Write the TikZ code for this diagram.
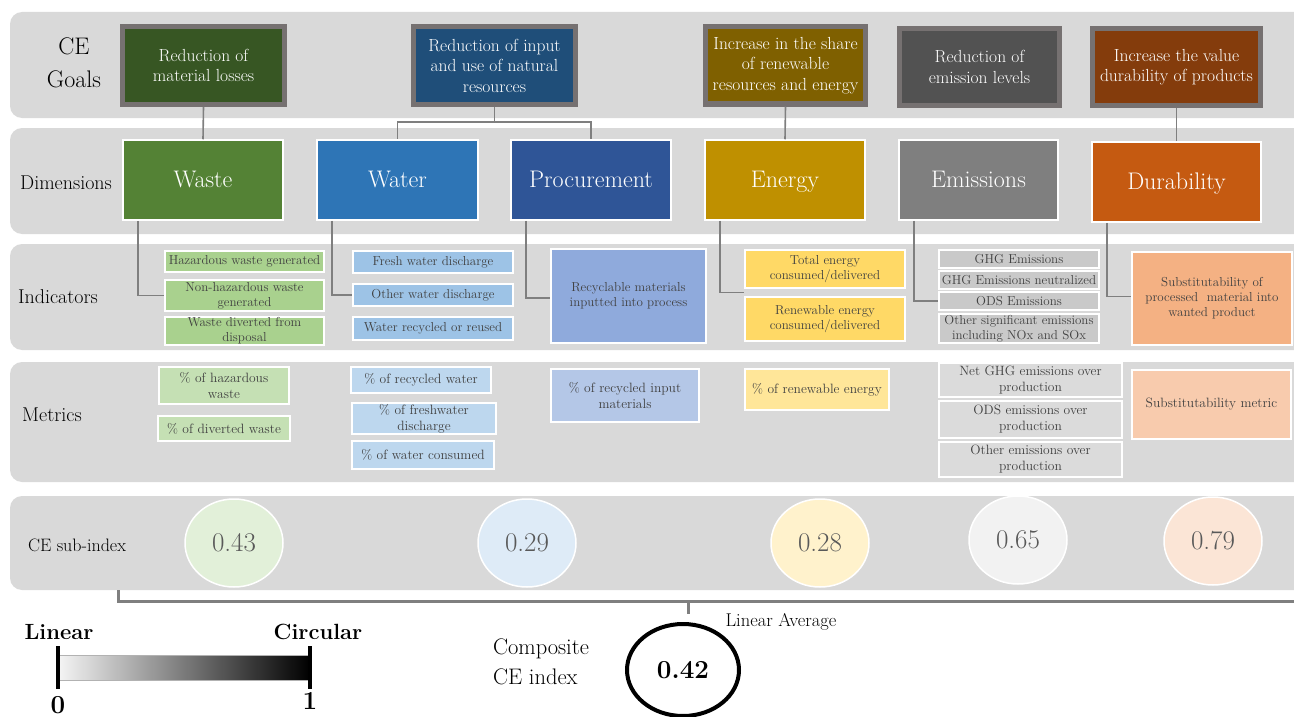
\documentclass[tikz,border=0pt]{standalone}
\usepackage{fontspec}
\setmainfont{Latin Modern Roman}
\usetikzlibrary{shapes.geometric}
\definecolor{band}{HTML}{D9D9D9}
\definecolor{gborder}{HTML}{767171}
\definecolor{lgray}{HTML}{7F7F7F}
\definecolor{tgray}{HTML}{404040}
\definecolor{ggreen}{HTML}{375623}
\definecolor{gblue}{HTML}{1F4E79}
\definecolor{golive}{HTML}{7F6000}
\definecolor{ggray}{HTML}{525252}
\definecolor{gbrown}{HTML}{843C0C}
\definecolor{dgreen}{HTML}{548235}
\definecolor{dblue}{HTML}{2E75B6}
\definecolor{dnavy}{HTML}{2F5597}
\definecolor{dgold}{HTML}{BF9000}
\definecolor{dgray}{HTML}{7F7F7F}
\definecolor{dorange}{HTML}{C55A11}
\definecolor{igreen}{HTML}{A9D18E}
\definecolor{iblue}{HTML}{9DC3E6}
\definecolor{inavy}{HTML}{8FAADC}
\definecolor{igold}{HTML}{FFD966}
\definecolor{igray}{HTML}{C9C9C9}
\definecolor{iorange}{HTML}{F4B183}
\definecolor{mgreen}{HTML}{C5E0B4}
\definecolor{mblue}{HTML}{BDD7EE}
\definecolor{mnavy}{HTML}{B4C7E7}
\definecolor{mgold}{HTML}{FFE699}
\definecolor{mgray}{HTML}{DBDBDB}
\definecolor{morange}{HTML}{F8CBAD}
\definecolor{sgreen}{HTML}{E2F0D9}
\definecolor{sblue}{HTML}{DEEBF7}
\definecolor{sgold}{HTML}{FFF2CC}
\definecolor{sgray}{HTML}{F2F2F2}
\definecolor{sorange}{HTML}{FBE5D6}
\definecolor{subtxt}{HTML}{595959}
\newcommand\rbox[7]{\node[#1, minimum width={#4-#2}, minimum height={#5-#3}] (#6) at ({(#2+#4)/2},{(#3+#5)/2}) {#7};}
\begin{document}
\begin{tikzpicture}[x=1pt,y=-1pt,
  bandbox/.style={fill=band, rounded corners=12pt},
  goal/.style={draw=gborder, line width=5pt, text=white, align=center, inner sep=0pt, font=\fontsize{17.5}{20.5}\selectfont},
  dim/.style={draw=white, line width=1.5pt, text=white, inner sep=0pt, text height=17pt, text depth=3pt, font=\fontsize{24}{28}\selectfont},
  ind/.style={draw=white, line width=1.3pt, text=tgray, align=center, inner sep=0pt, font=\fontsize{13}{15}\selectfont},
  met/.style={draw=white, line width=1.3pt, text=tgray, align=center, inner sep=0pt, font=\fontsize{13.5}{16}\selectfont},
  sub/.style={ellipse, draw=white, line width=1.5pt, text=subtxt, inner sep=0pt, minimum width=98pt, minimum height=88pt, font=\fontsize{27}{30}\selectfont},
  rowlab/.style={text=black, font=\fontsize{20}{24}\selectfont},
  conn/.style={draw=lgray, line width=1.6pt}]
\useasboundingbox (0,0) rectangle (1294,717);
% bands
\fill[bandbox] (10,12) rectangle (1310,118);
\fill[bandbox] (10,128) rectangle (1310,234);
\fill[bandbox] (10,244) rectangle (1310,350);
\fill[bandbox] (10,362) rectangle (1310,482);
\fill[bandbox] (10,496) rectangle (1310,590);
% row labels
\node[rowlab, align=center, font=\fontsize{24}{33}\selectfont] (lgoals) at (74,63) {CE\\Goals};
\node[rowlab] (ldim) at (66,183) {Dimensions};
\node[rowlab] (lind) at (58,297) {Indicators};
\node[rowlab] (lmet) at (52,415) {Metrics};
\node[rowlab, font=\fontsize{18}{20}\selectfont] (lsub) at (77,545) {CE sub-index};
% goals
\rbox{goal, fill=ggreen}{122.5}{26.5}{284.5}{104.5}{g1}{Reduction of\\material losses}
\rbox{goal, fill=gblue}{413.5}{26.5}{575.5}{104.5}{g2}{Reduction of input\\and use of natural\\resources}
\rbox{goal, fill=golive}{705.5}{26.5}{865.5}{104}{g3}{Increase in the share\\of renewable\\resources and energy}
\rbox{goal, fill=ggray}{899.5}{28.5}{1059.5}{105.5}{g4}{Reduction of\\emission levels}
\rbox{goal, fill=gbrown}{1092.5}{28.5}{1260.5}{105.5}{g5}{Increase the value\\durability of products}
% dimensions
\rbox{dim, fill=dgreen}{123}{140}{283}{220}{d1}{Waste}
\rbox{dim, fill=dblue}{317}{140}{478}{220}{d2}{Water}
\rbox{dim, fill=dnavy}{511}{140}{671}{220}{d3}{Procurement}
\rbox{dim, fill=dgold}{705}{140}{865}{220}{d4}{Energy}
\rbox{dim, fill=dgray}{899}{140}{1058}{220}{d5}{Emissions}
\rbox{dim, fill=dorange}{1092}{142}{1261}{222}{d6}{Durability}
% indicators
\rbox{ind, fill=igreen}{165}{251}{324}{272}{i11}{Hazardous waste generated}
\rbox{ind, fill=igreen}{165}{280}{324}{311}{i12}{Non-hazardous waste\\generated}
\rbox{ind, fill=igreen}{165}{317}{324}{345}{i13}{Waste diverted from\\disposal}
\rbox{ind, fill=iblue}{353}{251}{513}{273}{i21}{Fresh water discharge}
\rbox{ind, fill=iblue}{353}{284}{513}{306}{i22}{Other water discharge}
\rbox{ind, fill=iblue}{353}{317}{513}{340}{i23}{Water recycled or reused}
\rbox{ind, fill=inavy}{551}{249}{706}{343}{i31}{Recyclable materials\\inputted into process}
\rbox{ind, fill=igold}{745}{250}{905}{288}{i41}{Total energy\\consumed/delivered}
\rbox{ind, fill=igold}{745}{297}{905}{341}{i42}{Renewable energy\\consumed/delivered}
\rbox{ind, fill=igray}{939}{250}{1099}{268}{i51}{GHG Emissions}
\rbox{ind, fill=igray}{939}{271}{1099}{289}{i52}{GHG Emissions neutralized}
\rbox{ind, fill=igray}{939}{292}{1099}{310}{i53}{ODS Emissions}
\rbox{ind, fill=igray}{939}{314}{1099}{343}{i54}{Other significant emissions\\including NOx and SOx}
\rbox{ind, fill=iorange}{1132}{252}{1292}{345}{i61}{Substitutability of\\processed\ \ material into\\wanted product}
% metrics
\rbox{met, fill=mgreen}{159}{367}{289}{404}{m11}{\% of hazardous\\waste}
\rbox{met, fill=mgreen}{158}{416}{290}{441}{m12}{\% of diverted waste}
\rbox{met, fill=mblue}{351}{367}{491}{393}{m21}{\% of recycled water}
\rbox{met, fill=mblue}{352}{403}{496}{434}{m22}{\% of freshwater\\discharge}
\rbox{met, fill=mblue}{352}{441}{494}{469}{m23}{\% of water consumed}
\rbox{met, fill=mnavy}{551}{369}{699}{422}{m31}{\% of recycled input\\materials}
\rbox{met, fill=mgold}{745}{369}{889}{410}{m41}{\% of renewable energy}
\rbox{met, fill=mgray}{939}{363}{1122}{397}{m51}{Net GHG emissions over\\production}
\rbox{met, fill=mgray}{939}{401}{1122}{438}{m52}{ODS emissions over\\production}
\rbox{met, fill=mgray}{939}{442}{1122}{477}{m53}{Other emissions over\\production}
\rbox{met, fill=morange}{1132}{370}{1291}{439}{m61}{Substitutability metric}
% sub-index
\node[sub, fill=sgreen] (s1) at (234,543) {0.43};
\node[sub, fill=sblue] (s2) at (527,543) {0.29};
\node[sub, fill=sgold] (s3) at (820,543) {0.28};
\node[sub, fill=sgray] (s4) at (1018,540) {0.65};
\node[sub, fill=sorange] (s5) at (1213,541) {0.79};
% goal -> dimension connectors
\draw[conn] (g1.south) -- (d1.north);
\draw[conn] (g2.south) -- ([yshift=-15pt]g2.south) -| (d2.north);
\draw[conn] ([yshift=-15pt]g2.south) -| (d3.north);
\draw[conn] (g3.south) -- (d4.north);
\draw[conn] (g5.south) -- (d6.north);
% dimension -> indicator connectors
\draw[conn] ([xshift=16pt]d1.south west) |- (i12.west);
\draw[conn] ([xshift=16pt]d2.south west) |- (i22.west);
\draw[conn] ([xshift=16pt]d3.south west) |- ([yshift=-2pt]i31.west);
\draw[conn] ([xshift=16pt]d4.south west) |- ([yshift=-4pt]i41.south west);
\draw[conn] ([xshift=16pt]d5.south west) |- (i53.west);
\draw[conn] ([xshift=16pt]d6.south west) |- ([yshift=2pt]i61.west);
% composite
\node[ellipse, draw=black, line width=4pt, minimum width=112pt, minimum height=92pt, inner sep=0pt, font=\fontsize{26}{30}\selectfont\bfseries] (comp) at (683,670) {0.42};
\node[font=\fontsize{18.5}{21}\selectfont, anchor=west] (lavg) at (722,622) {Linear Average};
\node[font=\fontsize{22.5}{30}\selectfont, align=left] (lcomp) at (541,662) {Composite\\CE index};
\coordinate (bs) at (118,590);
\coordinate (bc) at (1310,601);
\coordinate (bt) at (688,601);
\draw[draw=lgray, line width=3pt] (bs) |- (bc);
\draw[draw=lgray, line width=3pt] (bt) -- ([yshift=-13pt]bt);
% scale
\shade[left color=gray!8, right color=black] (58,655) rectangle (310,680);
\draw[line width=0.6pt, draw=gray!60] (58,655) -- (310,655) (58,680) -- (310,680);
\node[font=\fontsize{22}{26}\selectfont\bfseries] (llin) at (59,632) {Linear};
\node[font=\fontsize{22}{26}\selectfont\bfseries] (lcirc) at (318,632) {Circular};
\coordinate (z0) at (58,646);
\coordinate (z1) at (310,646);
\draw[line width=4pt] (z0) -- ++(0,43);
\draw[line width=4pt] (z1) -- ++(0,43);
\node[font=\fontsize{26}{28}\selectfont\bfseries] (n0) at (58,705) {0};
\node[font=\fontsize{26}{28}\selectfont\bfseries] (n1) at (310,701) {1};
\end{tikzpicture}
\end{document}
